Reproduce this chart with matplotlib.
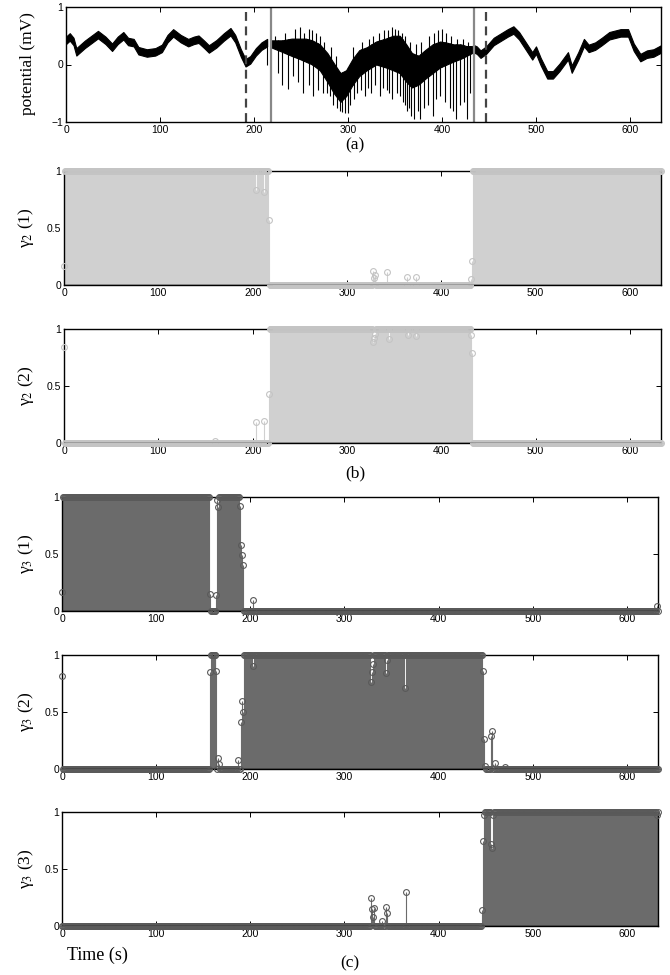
import numpy as np
import matplotlib
matplotlib.use("Agg")
import matplotlib.pyplot as plt

# ---------------- data ----------------
# (a) potential trace: calm parts given as centre line (mV)
calm1_t = [0, 4, 8, 11, 20, 34, 42, 49, 55, 61, 66, 72, 77, 86, 95, 102, 108, 114,
           122, 130, 136, 141, 147, 152, 160, 168, 175, 180, 186, 191, 196, 202, 208, 214]
calm1_v = [0.42, 0.48, 0.40, 0.22, 0.35, 0.52, 0.42, 0.30, 0.42, 0.50, 0.40, 0.38, 0.24,
           0.20, 0.22, 0.28, 0.45, 0.55, 0.45, 0.38, 0.42, 0.44, 0.35, 0.27, 0.36, 0.48,
           0.57, 0.45, 0.20, 0.03, 0.08, 0.22, 0.32, 0.38]
calm2_t = [433, 437, 441, 447, 455, 463, 470, 476, 482, 490, 496, 500, 505, 512, 518,
           525, 534, 538, 545, 551, 556, 563, 570, 578, 590, 598, 604, 611, 618, 625, 633]
calm2_v = [0.28, 0.25, 0.18, 0.25, 0.40, 0.48, 0.55, 0.60, 0.50, 0.30, 0.15, 0.25, 0.05,
           -0.18, -0.18, -0.05, 0.15, -0.08, 0.15, 0.38, 0.28, 0.32, 0.40, 0.50, 0.55,
           0.55, 0.30, 0.12, 0.18, 0.20, 0.27]
calm_halfwidth = 0.065
# noisy part: dense core (upper / lower) plus individual spikes
noisy_t = [218, 230, 240, 248, 255, 262, 270, 278, 285, 292, 298, 305, 312, 320, 330,
           340, 348, 355, 362, 368, 375, 382, 390, 398, 405, 412, 420, 426, 432]
noisy_hi = [0.42, 0.42, 0.45, 0.45, 0.45, 0.42, 0.35, 0.20, 0.02, -0.15, -0.10, 0.10,
            0.25, 0.30, 0.40, 0.45, 0.50, 0.50, 0.35, 0.20, 0.15, 0.25, 0.35, 0.40,
            0.38, 0.35, 0.35, 0.32, 0.32]
noisy_lo = [0.30, 0.22, 0.15, 0.10, 0.05, 0.00, -0.10, -0.30, -0.50, -0.65, -0.55,
            -0.35, -0.20, -0.10, 0.00, -0.05, -0.10, -0.15, -0.30, -0.40, -0.35, -0.25,
            -0.15, -0.05, 0.00, 0.05, 0.10, 0.15, 0.20]
up_t = [222, 233, 244, 249, 253, 258, 262, 266, 270, 275, 282, 287, 305, 315, 322, 327,
        333, 338, 343, 347, 350, 353, 357, 361, 366, 372, 378, 386, 392, 396, 400, 404,
        410, 416, 422, 428]
up_max = [0.50, 0.55, 0.62, 0.65, 0.55, 0.62, 0.60, 0.55, 0.50, 0.40, 0.30, 0.15, 0.30,
          0.40, 0.45, 0.50, 0.55, 0.60, 0.60, 0.65, 0.62, 0.60, 0.55, 0.50, 0.40, 0.35,
          0.40, 0.50, 0.55, 0.60, 0.62, 0.55, 0.50, 0.45, 0.45, 0.40]
down_t = [214, 226, 230, 236, 241, 247, 252, 258, 263, 268, 273, 278, 281, 284, 288, 291,
          294, 297, 300, 302, 306, 310, 314, 318, 321, 325, 329, 334, 337, 341, 344, 347,
          352, 355, 358, 361, 363, 365, 367, 370, 374, 377, 381, 385, 390, 394, 398, 403,
          408, 412, 415, 419, 423, 427, 430]
down_min = [0.0, -0.15, -0.35, -0.42, -0.20, -0.30, -0.50, -0.35, -0.55, -0.45, -0.50,
            -0.50, -0.55, -0.70, -0.75, -0.80, -0.82, -0.85, -0.85, -0.70, -0.60, -0.50,
            -0.45, -0.55, -0.40, -0.50, -0.35, -0.55, -0.40, -0.45, -0.50, -0.60, -0.50,
            -0.55, -0.65, -0.70, -0.80, -0.75, -0.90, -0.95, -0.80, -0.95, -0.75, -0.70,
            -0.90, -0.60, -0.55, -0.65, -0.75, -0.80, -0.95, -0.70, -0.65, -0.95, -0.50]
dashed_marks = [191, 447]
solid_marks = [218, 434]

# posterior probabilities: (start, end) runs equal to 1, plus individual values
g2_1_runs = [(1, 216), (434, 633)]
g2_1_pts = [(0, 0.17), (204, 0.83), (212, 0.82), (217, 0.57), (328, 0.12), (329, 0.06),
            (330, 0.09), (343, 0.11), (364, 0.07), (373, 0.07), (432, 0.05), (433, 0.21)]
g2_2_runs = [(218, 432)]
g2_2_pts = [(0, 0.84), (160, 0.02), (204, 0.18), (212, 0.19), (217, 0.43), (328, 0.89),
            (329, 0.92), (330, 0.96), (345, 0.91), (365, 0.95), (373, 0.94), (432, 0.95),
            (433, 0.79)]
g3_1_runs = [(1, 156), (165, 188)]
g3_1_pts = [(0, 0.17), (157, 0.15), (164, 0.14), (165, 0.97), (166, 0.91), (189, 0.92),
            (190, 0.58), (191, 0.49), (192, 0.40), (203, 0.10), (632, 0.04)]
g3_2_runs = [(158, 163), (193, 446)]
g3_2_pts = [(0, 0.82), (157, 0.85), (164, 0.86), (166, 0.10), (167, 0.04), (187, 0.08),
            (190, 0.41), (191, 0.60), (192, 0.50), (203, 0.90), (328, 0.76), (329, 0.85),
            (330, 0.92), (344, 0.84), (345, 0.96), (364, 0.71), (447, 0.86), (448, 0.26),
            (449, 0.03), (456, 0.29), (457, 0.33), (460, 0.05), (470, 0.02)]
g3_3_runs = [(449, 633)]
g3_3_pts = [(328, 0.25), (329, 0.15), (330, 0.08), (331, 0.16), (340, 0.04), (344, 0.17),
            (345, 0.11), (365, 0.30), (446, 0.14), (447, 0.75), (448, 0.97), (456, 0.72),
            (457, 0.68), (458, 0.97), (632, 0.97)]

time_end = 633
xticks = [0, 100, 200, 300, 400, 500, 600]

# ---------------- figure ----------------
plt.rcParams["font.family"] = ["Liberation Sans", "DejaVu Sans"]
plt.rcParams["mathtext.fontset"] = "stix"
W, H = 670, 975
fig = plt.figure(figsize=(W / 100, H / 100), dpi=100)


def add_ax(left, right, top, bottom):
    return fig.add_axes([left / W, 1 - bottom / H, (right - left) / W, (bottom - top) / H])


def style(ax, ylim, yticks, yticklabels):
    ax.set_xlim(0, time_end)
    ax.set_ylim(*ylim)
    ax.set_xticks(xticks)
    ax.set_yticks(yticks)
    ax.set_yticklabels(yticklabels)
    ax.tick_params(direction="in", top=True, right=True, length=3.5, width=0.7,
                   labelsize=7.5, pad=2)
    for s in ax.spines.values():
        s.set_linewidth(1.0)


SERIF = ["Liberation Serif", "DejaVu Serif"]

# panel (a)
ax = add_ax(66, 661, 7, 122)
for tc, vc in ((calm1_t, calm1_v), (calm2_t, calm2_v)):
    vc = np.asarray(vc)
    ax.fill_between(tc, vc - calm_halfwidth, vc + calm_halfwidth, color="black",
                    lw=0.8, edgecolor="black")
ax.fill_between(noisy_t, noisy_lo, noisy_hi, color="black", lw=0.8, edgecolor="black")
ax.vlines(up_t, np.interp(up_t, noisy_t, noisy_lo), up_max, color="black", lw=0.8)
ax.vlines(down_t, down_min, np.interp(down_t, noisy_t, noisy_hi), color="black", lw=0.8)
for xm in dashed_marks:
    ax.axvline(xm, color="#444444", lw=1.6, ls=(0, (4, 2.5)))
for xm in solid_marks:
    ax.axvline(xm, color="#888888", lw=1.6)
style(ax, (-1, 1), [-1, 0, 1], ["\u22121", "0", "1"])
fig.text(28 / W, 1 - 64 / H, "potential (mV)", rotation=90, ha="center", va="center",
         fontsize=12.5, family=SERIF)
fig.text(355 / W, 1 - 145 / H, "(a)", ha="center", va="center", fontsize=12.5, family=SERIF)

t = np.arange(0, time_end + 1)


def build(runs, pts):
    v = np.zeros(len(t))
    for a, b in runs:
        v[(t >= a) & (t <= b)] = 1.0
    for tt, val in pts:
        v[t == tt] = val
    return v


def stem_panel(box, runs, pts, fill_col, mark_col, label):
    left, right, top, bottom = box
    ax = add_ax(left, right, top, bottom)
    v = build(runs, pts)
    ax.vlines(t, 0, v, color=fill_col, lw=0.8, zorder=2)
    ax.plot(t, v, "o", ms=4.2, mfc="none", mec=mark_col, mew=0.8, zorder=3, clip_on=False)
    ax.axhline(0, color="black", lw=1.0, zorder=4)
    style(ax, (0, 1), [0, 0.5, 1], ["0", "0.5", "1"])
    fig.text(26 / W, 1 - (top + bottom) / 2 / H, label, rotation=90, ha="center",
             va="center", fontsize=12.5, family=SERIF)
    return ax


LIGHT, LIGHT_M = "#d0d0d0", "#c4c4c4"
DARK, DARK_M = "#6b6b6b", "#5a5a5a"
stem_panel((64, 661, 171, 285), g2_1_runs, g2_1_pts, LIGHT, LIGHT_M, "\u03b3$_2$ (1)")
stem_panel((64, 661, 329, 443), g2_2_runs, g2_2_pts, LIGHT, LIGHT_M, "\u03b3$_2$ (2)")
fig.text(355 / W, 1 - 473 / H, "(b)", ha="center", va="center", fontsize=12.5, family=SERIF)
stem_panel((62, 658, 497, 611), g3_1_runs, g3_1_pts, DARK, DARK_M, "\u03b3$_3$ (1)")
stem_panel((62, 658, 655, 769), g3_2_runs, g3_2_pts, DARK, DARK_M, "\u03b3$_3$ (2)")
stem_panel((62, 658, 812, 926), g3_3_runs, g3_3_pts, DARK, DARK_M, "\u03b3$_3$ (3)")
fig.text(97 / W, 1 - 955 / H, "Time (s)", ha="center", va="center", fontsize=13, family=SERIF)
fig.text(350 / W, 1 - 963 / H, "(c)", ha="center", va="center", fontsize=12.5, family=SERIF)

fig.savefig("out.png", dpi=100)
